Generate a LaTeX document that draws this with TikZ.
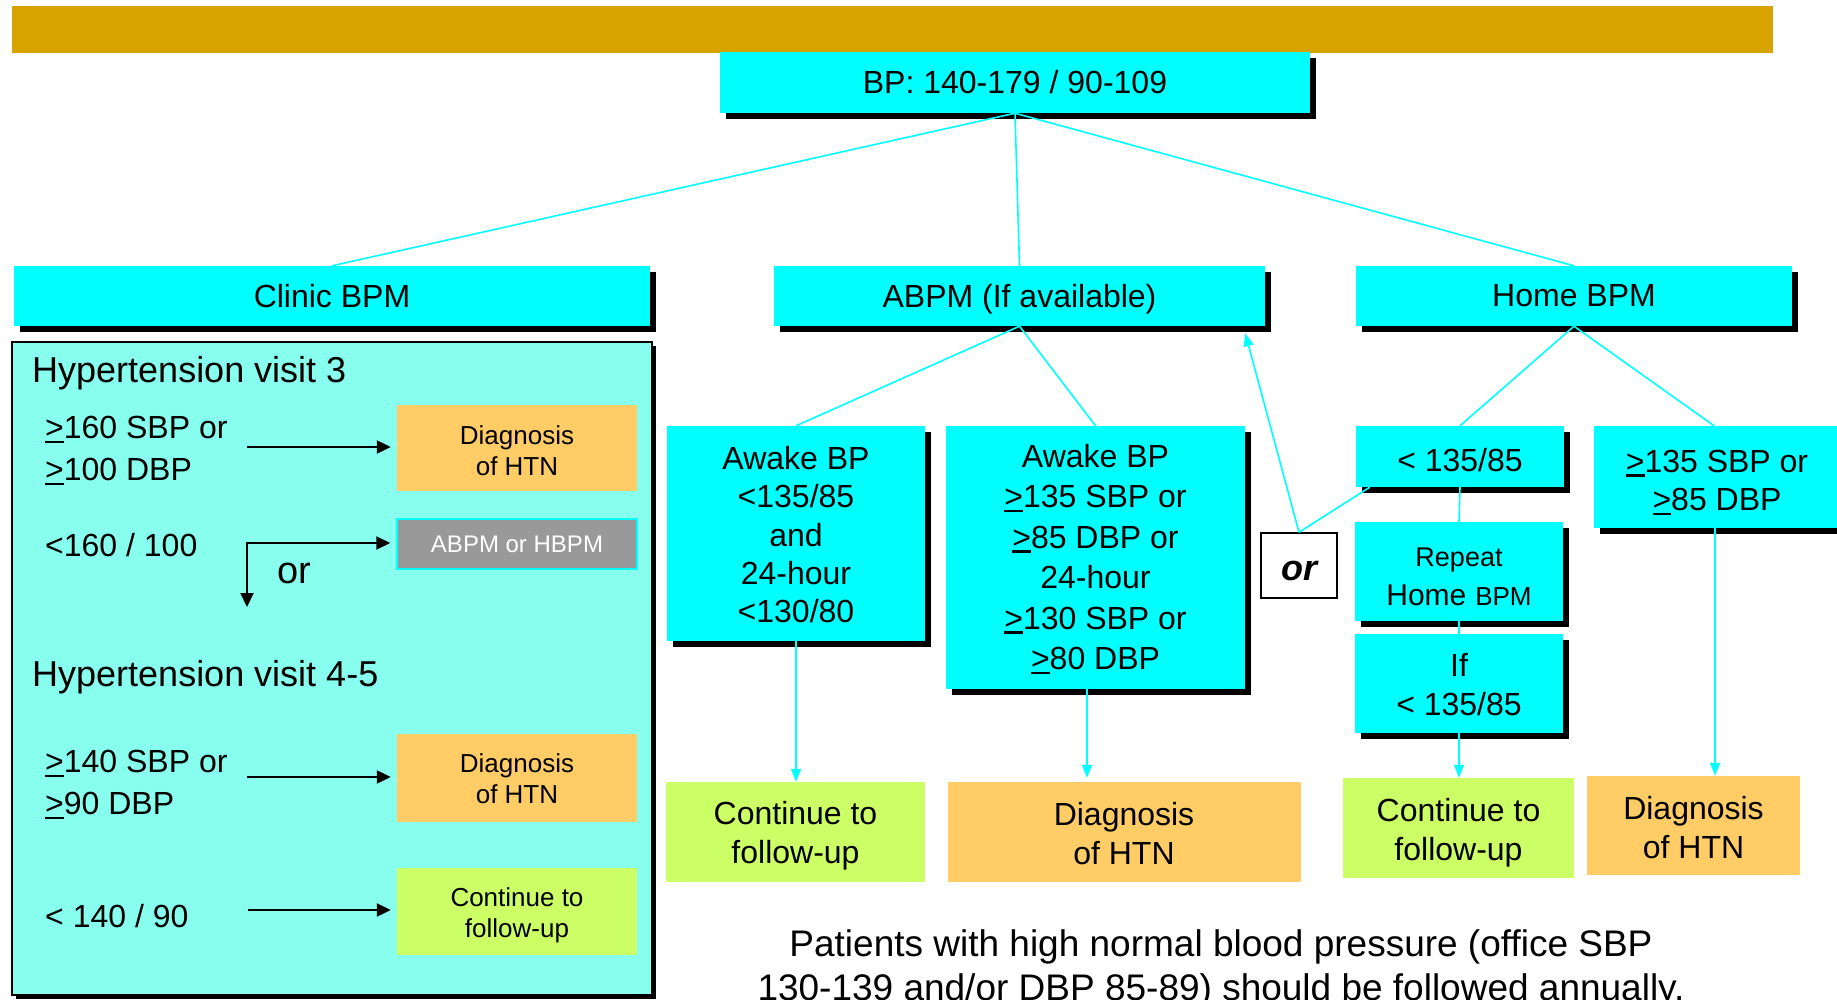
\documentclass[tikz,border=0pt]{standalone}
\usepackage{fontspec}
\setmainfont{Liberation Sans}
\usetikzlibrary{arrows.meta,calc}
\definecolor{cy}{HTML}{00FFFF}
\definecolor{panelc}{HTML}{88FFEE}
\definecolor{orng}{HTML}{FFCC66}
\definecolor{grn}{HTML}{CCFF66}
\definecolor{goldc}{HTML}{D6A300}
\definecolor{grayb}{HTML}{999999}
\newcommand\uge{\mbox{\rlap{\rule[-0.14em]{0.584em}{0.075em}}>}}
\newcommand\push[1]{\rule{0pt}{\dimexpr0.73em+#1\relax}}
\begin{document}
\begin{tikzpicture}[x=1pt,y=-1pt,
  shad/.style={preaction={fill=black,transform canvas={xshift=6pt,yshift=-6pt}}},
  cybox/.style={shad,fill=cy,inner sep=0pt,align=center,font=\fontsize{32}{39}\selectfont},
  plain/.style={inner sep=0pt,align=center,font=\fontsize{32}{39}\selectfont},
  small/.style={inner sep=0pt,align=center,font=\fontsize{26}{31}\selectfont},
  lbl/.style={inner sep=0pt,align=left,font=\fontsize{32}{42}\selectfont},
  head/.style={inner sep=0pt,font=\fontsize{36}{42}\selectfont},
  link/.style={draw=cy,line width=1.6pt},
  cyarr/.style={link,-{Triangle[length=13pt,width=10pt]}},
  blkarr/.style={draw=black,line width=2.2pt,line cap=rect,-{Triangle[length=14pt,width=13pt]}},
]
\useasboundingbox (0,0) rectangle (1837,1000);
\fill[white] (0,0) rectangle (1837,1000);
% banner
\fill[goldc] (12,6) rectangle (1773,53);

% top level
\node[cybox,minimum width=590pt,minimum height=61pt] (top) at (1015,82.5) {BP: 140-179 / 90-109};
\node[cybox,minimum width=636pt,minimum height=60pt] (clinic) at (332,296) {Clinic BPM};
\node[cybox,minimum width=491pt,minimum height=60pt] (abpm) at (1019.5,296) {\push{7pt}ABPM (If available)};
\node[cybox,minimum width=436pt,minimum height=60pt] (home) at (1574,296) {Home BPM};

% left panel
\node[draw=black,line width=2pt,fill=panelc,minimum width=640pt,minimum height=653pt,inner sep=0pt,
      preaction={fill=black,transform canvas={xshift=4pt,yshift=-4pt}}] (panel) at (332,668.5) {};
\node[head,anchor=base west] (h3) at (32,382) {Hypertension visit 3};
\node[lbl,anchor=west] (c1) at (45,450.5) {\uge160 SBP or\\\uge100 DBP};
\node[small,fill=orng,minimum width=240pt,minimum height=86pt] (d1) at (517,448) {\push{5pt}Diagnosis\\of HTN};
\coordinate (a1) at (248,447);
\draw[blkarr,shorten >=6pt] (a1) -- (a1 -| d1.west);

\node[plain,anchor=base west] (c2) at (45,556) {<160 / 100};
\node[small,font=\fontsize{24}{28}\selectfont,text=white,fill=grayb,draw=cy,line width=1.5pt,
      minimum width=240pt,minimum height=50pt] (ab) at (517,544) {ABPM or HBPM};
\coordinate (a2) at (247,543);
\coordinate (a2e) at (247,607);
\draw[blkarr,shorten >=6pt] (a2) -- (a2 -| ab.west);
\draw[blkarr] (a2) -- (a2e);
\node[inner sep=0pt,font=\fontsize{38}{44}\selectfont,anchor=base west] (orl) at (277,583) {or};

\node[head,anchor=base west] (h45) at (32,686) {Hypertension visit 4-5};
\node[lbl,anchor=west] (c3) at (45,784.5) {\uge140 SBP or\\\uge90 DBP};
\node[small,fill=orng,minimum width=240pt,minimum height=88pt] (d2) at (517,778) {\push{2pt}Diagnosis\\of HTN};
\coordinate (a3) at (248,777);
\draw[blkarr,shorten >=6pt] (a3) -- (a3 -| d2.west);

\node[plain,anchor=base west] (c4) at (45,927) {< 140 / 90};
\node[small,fill=grn,minimum width=240pt,minimum height=87pt] (f1) at (517,911.5) {\push{7pt}Continue to\\follow-up};
\coordinate (a4) at (249,910);
\draw[blkarr,shorten >=6pt] (a4) -- (a4 -| f1.west);

% ABPM column
\node[cybox,font=\fontsize{32}{38.25}\selectfont,minimum width=258pt,minimum height=215pt] (aw1) at (796,533.5)
  {\push{2pt}Awake BP\\<135/85\\and\\24-hour\\<130/80};
\node[cybox,font=\fontsize{32}{40.4}\selectfont,minimum width=299pt,minimum height=263pt] (aw2) at (1095.5,557.5)
  {\push{3pt}Awake BP\\\uge135 SBP or\\\uge85 DBP or\\24-hour\\\uge130 SBP or\\\uge80 DBP};

% or box
\node[draw=black,line width=1.5pt,fill=white,minimum width=76pt,minimum height=65pt,inner sep=0pt,
      font=\fontsize{36}{40}\selectfont\bfseries\itshape] (orb) at (1299,565.5) {\push{4pt}or};

% Home column
\node[cybox,minimum width=208pt,minimum height=61pt] (lt) at (1460,456.5) {\push{7pt}< 135/85};
\node[cybox,minimum width=208pt,minimum height=99pt] (rep) at (1459,571.5)
  {\push{5pt}{\fontsize{27}{39}\selectfont Repeat}\\{\fontsize{30}{39}\selectfont Home} {\fontsize{26}{39}\selectfont BPM}};
\node[cybox,minimum width=208pt,minimum height=99pt] (ifb) at (1459,683.5) {\push{2pt}If\\< 135/85};
\node[cybox,font=\fontsize{32}{38.5}\selectfont,minimum width=246pt,minimum height=102pt] (ge) at (1717,477) {\push{10pt}\uge135 SBP or\\\uge85 DBP};

% bottom outcomes
\node[plain,fill=grn,minimum width=259pt,minimum height=100pt] (f2) at (795.5,832) {\push{7pt}Continue to\\follow-up};
\node[plain,fill=orng,minimum width=353pt,minimum height=100pt] (d3) at (1124,832) {\push{2pt}Diagnosis\\of HTN};
\node[plain,fill=grn,minimum width=231pt,minimum height=100pt] (f3) at (1458.5,828) {\push{9pt}Continue to\\follow-up};
\node[plain,fill=orng,minimum width=213pt,minimum height=99pt] (d4) at (1693.5,825.5) {\push{3pt}Diagnosis\\of HTN};

% footer
\node[inner sep=0pt,align=center,font=\fontsize{37}{44}\selectfont,anchor=north] (foot) at (1221,929)
  {Patients with high normal blood pressure (office SBP\\130-139 and/or DBP 85-89) should be followed annually.};

% connectors
\draw[link] (top.south) -- (clinic.north);
\draw[link] (top.south) -- (abpm.north);
\draw[link] (top.south) -- (home.north);
\draw[link] (abpm.south) -- (aw1.north);
\draw[link] (abpm.south) -- (aw2.north);
\draw[link] (home.south) -- (lt.north);
\draw[link] (home.south) -- ([xshift=-3pt]ge.north);
\draw[link] (lt.south) -- (rep.north);
\draw[link] (rep.south) -- (ifb.north);
\draw[link] (orb.north) -- ([xshift=14pt]lt.south west);
\draw[cyarr] (orb.north) -- ([xshift=-20pt,yshift=-7pt]abpm.south east);
\draw[cyarr] (aw1.south) -- (aw1.south |- f2.north);
\draw[cyarr,shorten >=4pt] ([xshift=-8.5pt]aw2.south) -- ([xshift=-8.5pt]aw2.south |- d3.north);
\draw[cyarr] (ifb.south) -- (ifb.south |- f3.north);
\draw[cyarr] ([xshift=-2pt]ge.south) -- ([xshift=-2pt]ge.south |- d4.north);
\end{tikzpicture}
\end{document}
